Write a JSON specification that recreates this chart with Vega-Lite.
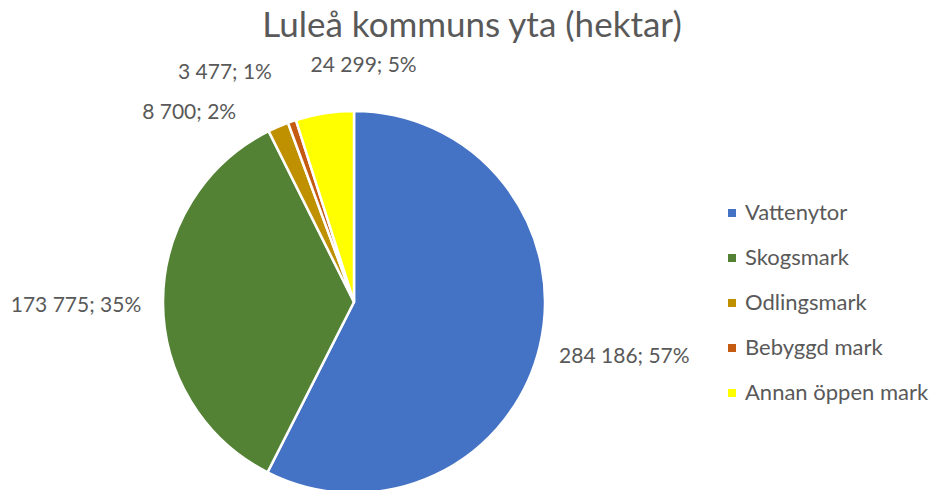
{
  "$schema": "https://vega.github.io/schema/vega-lite/v6.json",
  "width": 708,
  "height": 484,
  "autosize": "none",
  "padding": {"left": 0, "top": 60, "right": 226, "bottom": 0},
  "background": "white",
  "config": {"view": {"stroke": null}},
  "title": {
    "text": "Luleå kommuns yta (hektar)",
    "font": "Lato",
    "fontSize": 35,
    "fontWeight": "normal",
    "color": "#595959",
    "anchor": "middle",
    "frame": "group",
    "dx": 118,
    "offset": 11
  },
  "data": {
    "values": [
      {"cat": "Vattenytor", "value": 284186, "ord": 1, "label": "284 186; 57%"},
      {"cat": "Skogsmark", "value": 173775, "ord": 2, "label": "173 775; 35%"},
      {"cat": "Odlingsmark", "value": 8700, "ord": 3, "label": "8 700; 2%"},
      {"cat": "Bebyggd mark", "value": 3477, "ord": 4, "label": "3 477; 1%"},
      {"cat": "Annan öppen mark", "value": 24299, "ord": 5, "label": "24 299; 5%"}
    ]
  },
  "encoding": {
    "theta": {"field": "value", "type": "quantitative", "stack": true},
    "order": {"field": "ord", "type": "quantitative"}
  },
  "layer": [
    {
      "mark": {"type": "arc", "outerRadius": 191, "stroke": "white", "strokeWidth": 2.5},
      "encoding": {
        "color": {
          "field": "cat",
          "type": "nominal",
          "scale": {
            "domain": ["Vattenytor", "Skogsmark", "Odlingsmark", "Bebyggd mark", "Annan öppen mark"],
            "range": ["#4472C4", "#548235", "#BF9000", "#C55A11", "#FFFF00"]
          },
          "legend": {
            "title": null,
            "orient": "none",
            "legendX": 721,
            "legendY": 142,
            "symbolType": "square",
            "symbolSize": 64,
            "symbolStrokeWidth": 0,
            "labelFont": "Lato",
            "labelFontSize": 22,
            "labelColor": "#595959",
            "labelOffset": 2,
            "labelLimit": 400,
            "rowPadding": 23
          }
        }
      }
    },
    {
      "mark": {
        "type": "text",
        "font": "Lato",
        "fontSize": 21,
        "color": "#595959",
        "baseline": "middle",
        "radius": {"expr": "datum.cat == 'Vattenytor' || datum.cat == 'Skogsmark' ? 278 : 191"},
        "align": {"expr": "datum.cat == 'Odlingsmark' || datum.cat == 'Bebyggd mark' ? 'right' : 'center'"},
        "dx": {"expr": "datum.cat == 'Odlingsmark' ? -42 : datum.cat == 'Bebyggd mark' ? -20 : datum.cat == 'Annan öppen mark' ? 39 : 0"},
        "dy": {"expr": "datum.cat == 'Vattenytor' ? -10 : datum.cat == 'Skogsmark' ? 5 : datum.cat == 'Odlingsmark' ? -14 : datum.cat == 'Bebyggd mark' ? -48 : -47"}
      },
      "encoding": {"text": {"field": "label"}}
    }
  ]
}
